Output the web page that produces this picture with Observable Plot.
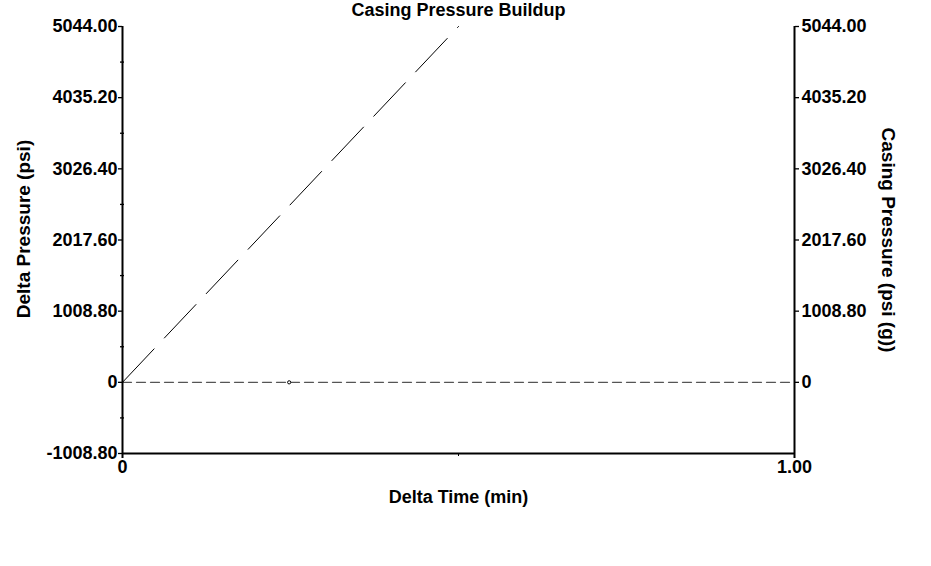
<!DOCTYPE html>
<html>
<head>
<meta charset="utf-8">
<script src="https://cdn.jsdelivr.net/npm/d3@7"></script>
<script src="https://cdn.jsdelivr.net/npm/@observablehq/plot@0.6"></script>
<style>
  html, body { margin: 0; padding: 0; background: #fff; }
</style>
</head>
<body>
<div id="chart"></div>
<script>
// ---- data ----
const buildupTime = [0, 0.5];          // Delta Time (min)
const buildupPressure = [0, 5044];     // Delta Pressure (psi)
const zeroTime = [0, 1];
const zeroPressure = [0, 0];
const markerTime = [0.248];
const markerPressure = [0];
const yTicks = [-1008.8, 0, 1008.8, 2017.6, 3026.4, 4035.2, 5044];
const yTicksRight = [0, 1008.8, 2017.6, 3026.4, 4035.2, 5044];
const yMinorTicks = [-504.4, 504.4, 1513.2, 2522, 3530.8, 4539.6];
const xTicks = [0, 1];
const xMinorTicks = [0.5];
const titleText = "Casing Pressure Buildup";
const xLabel = "Delta Time (min)";
const yLabelLeft = "Delta Pressure (psi)";
const yLabelRight = "Casing Pressure (psi (g))";

const buildup = buildupTime.map((t, i) => ({t, p: buildupPressure[i]}));
const zero = zeroTime.map((t, i) => ({t, p: zeroPressure[i]}));
const marker = markerTime.map((t, i) => ({t, p: markerPressure[i]}));

const yFmt = d => d === 0 ? "0" : d.toFixed(2);
const xFmt = d => d === 0 ? "0" : d.toFixed(2);
const FS = 18;

const chart = Plot.plot({
  width: 931,
  height: 566,
  marginLeft: 122,
  marginRight: 137,
  marginTop: 26,
  marginBottom: 113,
  style: {fontFamily: "'Liberation Sans', Arial, sans-serif", fontWeight: "bold", fontSize: FS + "px", color: "#000", background: "#fff"},
  x: {domain: [0, 1]},
  y: {domain: [-1008.8, 5044]},
  marks: [
    // zero reference line
    Plot.line(zero, {x: "t", y: "p", stroke: "#555", strokeWidth: 1.3, strokeDasharray: "9,5"}),
    // buildup line
    Plot.line(buildup, {x: "t", y: "p", stroke: "#000", strokeWidth: 1, strokeDasharray: "46,15"}),
    Plot.dot(marker, {x: "t", y: "p", r: 1.6, stroke: "#000", fill: "#fff", strokeWidth: 1}),
    // axis lines
    Plot.ruleX([0], {stroke: "#000", strokeWidth: 2, insetBottom: -5}),
    Plot.ruleX([1], {stroke: "#000", strokeWidth: 2, insetBottom: -5}),
    Plot.ruleY([-1008.8], {stroke: "#000", strokeWidth: 2}),
    // left axis
    Plot.axisY({anchor: "left", ticks: yTicks, tickFormat: yFmt, tickSize: 4, tickPadding: 1, label: null, fontSize: FS, strokeWidth: 1.3}),
    Plot.axisY({anchor: "left", ticks: yMinorTicks, tickFormat: () => "", tickSize: 4, dx: 2, label: null, strokeWidth: 1.3}),
    // right axis
    Plot.axisY({anchor: "right", ticks: yTicksRight, tickFormat: yFmt, tickSize: 4, tickPadding: 3, label: null, fontSize: FS, strokeWidth: 1.3}),
    // bottom axis
    Plot.axisX({anchor: "bottom", ticks: xTicks, tickFormat: xFmt, tickSize: 0, tickPadding: 7, label: null, fontSize: FS}),
    Plot.axisX({anchor: "bottom", ticks: xMinorTicks, tickFormat: () => "", tickSize: 3, label: null, strokeWidth: 1}),
    // texts
    Plot.text([titleText], {frameAnchor: "top", dy: -16, lineAnchor: "middle", fontSize: FS, fontWeight: "bold"}),
    Plot.text([xLabel], {frameAnchor: "bottom", dy: 44, lineAnchor: "middle", fontSize: FS, fontWeight: "bold"}),
    Plot.text([yLabelLeft], {frameAnchor: "left", dx: -99, dy: -11, rotate: -90, textAnchor: "middle", lineAnchor: "middle", fontSize: 19, fontWeight: "bold"}),
    Plot.text([yLabelRight], {frameAnchor: "right", dx: 94, dy: 0, rotate: 90, textAnchor: "middle", lineAnchor: "middle", fontSize: 19, fontWeight: "bold"})
  ]
});
document.getElementById("chart").appendChild(chart);
</script>
</body>
</html>
